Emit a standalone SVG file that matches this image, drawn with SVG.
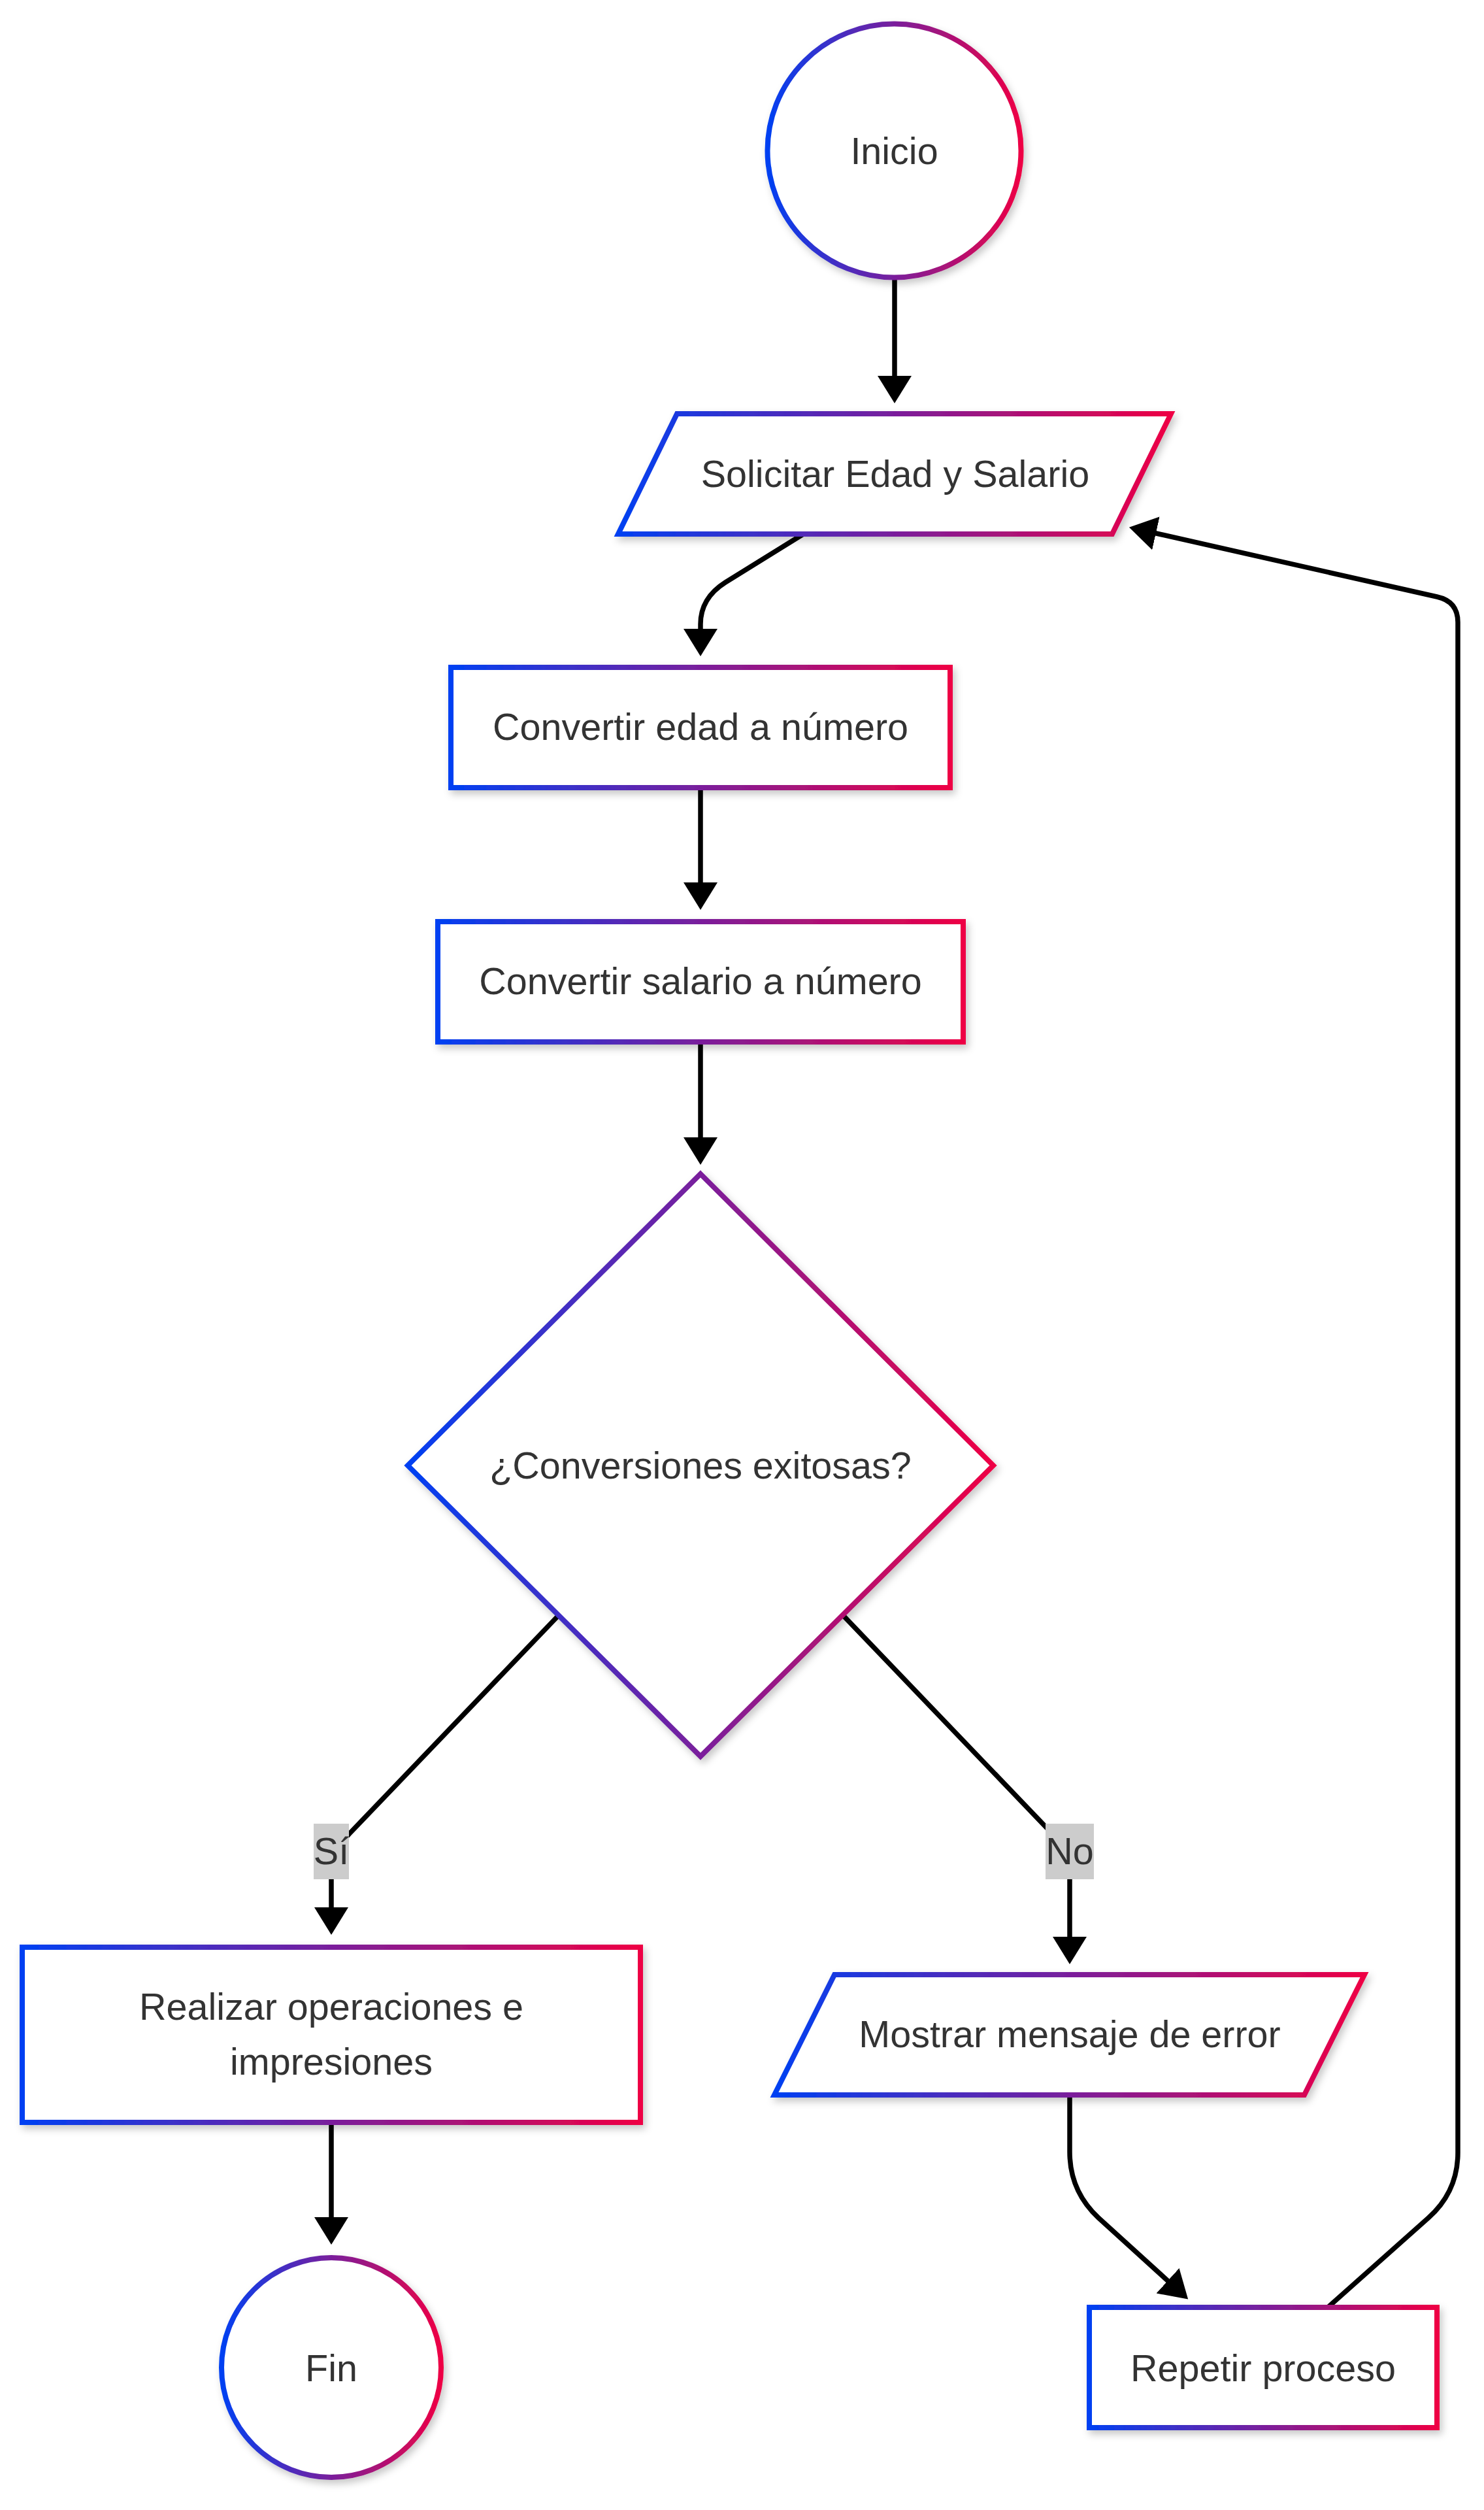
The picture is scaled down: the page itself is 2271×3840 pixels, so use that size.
<svg xmlns="http://www.w3.org/2000/svg" width="2271" height="3840" viewBox="0 0 2271 3840">
<defs>
<linearGradient id="grad" x1="0" y1="0" x2="1" y2="0">
<stop offset="0" stop-color="#0040F2"/>
<stop offset="0.5" stop-color="#7A1F9C"/>
<stop offset="1" stop-color="#EE0044"/>
</linearGradient>
<filter id="shadow" x="-10%" y="-10%" width="125%" height="125%">
<feDropShadow dx="4" dy="6" stdDeviation="6" flood-color="#000" flood-opacity="0.22"/>
</filter>
<marker id="arr" markerUnits="userSpaceOnUse" markerWidth="44" markerHeight="54" viewBox="0 0 44 54" refX="4" refY="27" orient="auto">
<path d="M0,1 L42,27 L0,53 Z" fill="#000"/>
</marker>
<style>
.node{fill:#fff;stroke:url(#grad);stroke-width:8;filter:url(#shadow);}
.edge{fill:none;stroke:#000;stroke-width:7.5;stroke-linejoin:round;marker-end:url(#arr);}
.lbl{fill:#333;font-family:"Liberation Sans",Arial,Helvetica,sans-serif;font-size:57.5px;text-anchor:middle;}
.lblbg{fill:#cccccc;}
</style>
</defs>
<rect width="2271" height="3840" fill="#fff"/>

<g id="connectors">
<path class="edge" d="M1369 424 L1369 579"/>
<path class="edge" d="M1231 816 L1110 891 Q1072 915 1072 955 L1072 966"/>
<path class="edge" d="M1072 1205 L1072 1354"/>
<path class="edge" d="M1072 1594 L1072 1744"/>
<path class="edge" d="M880 2445 L535 2805 Q507 2834 507 2874 L507 2922"/>
<path class="edge" d="M1265 2445 L1609 2804 Q1637 2833 1637 2873 L1637 2967"/>
<path class="edge" d="M507 3247 L507 3396"/>
<path class="edge" d="M1637 3205 L1637 3292 Q1637 3352 1681 3393 L1790 3492"/>
<path class="edge" d="M2032 3530 L2186 3393 Q2231 3353 2231 3293 L2231 952 Q2231 920 2199 913 L1765 815"/>
<g id="label-si">
<rect class="lblbg" x="480" y="2790" width="54" height="85"/>
<text class="lbl" x="507" y="2852">Sí</text>
</g>
<g id="label-no">
<rect class="lblbg" x="1600" y="2790" width="74" height="85"/>
<text class="lbl" x="1637" y="2852">No</text>
</g>
</g>

<g id="node-inicio">
<circle class="node" cx="1368.5" cy="230.5" r="194"/>
<text class="lbl" x="1368.5" y="251">Inicio</text>
</g>

<g id="node-solicitar">
<polygon class="node" points="1036,633 1792,633 1702,817 946,817"/>
<text class="lbl" x="1370" y="745">Solicitar Edad y Salario</text>
</g>

<g id="node-edad">
<rect class="node" x="690" y="1021" width="764" height="184"/>
<text class="lbl" x="1072" y="1132">Convertir edad a número</text>
</g>

<g id="node-salario">
<rect class="node" x="670" y="1410" width="804" height="184"/>
<text class="lbl" x="1072" y="1521">Convertir salario a número</text>
</g>

<g id="node-decision">
<polygon class="node" points="1072,1796 1520,2242 1072,2687 624,2242"/>
<text class="lbl" x="1072" y="2262">¿Conversiones exitosas?</text>
</g>

<g id="node-realizar">
<rect class="node" x="34" y="2979" width="946" height="268"/>
<text class="lbl" x="507" y="3090">Realizar operaciones e</text>
<text class="lbl" x="507" y="3174">impresiones</text>
</g>

<g id="node-mostrar">
<polygon class="node" points="1277,3021 2088,3021 1996,3205 1185,3205"/>
<text class="lbl" x="1637" y="3132">Mostrar mensaje de error</text>
</g>

<g id="node-fin">
<circle class="node" cx="507" cy="3622" r="168"/>
<text class="lbl" x="507" y="3643">Fin</text>
</g>

<g id="node-repetir">
<rect class="node" x="1667" y="3530" width="532" height="184"/>
<text class="lbl" x="1933" y="3643">Repetir proceso</text>
</g>
</svg>
